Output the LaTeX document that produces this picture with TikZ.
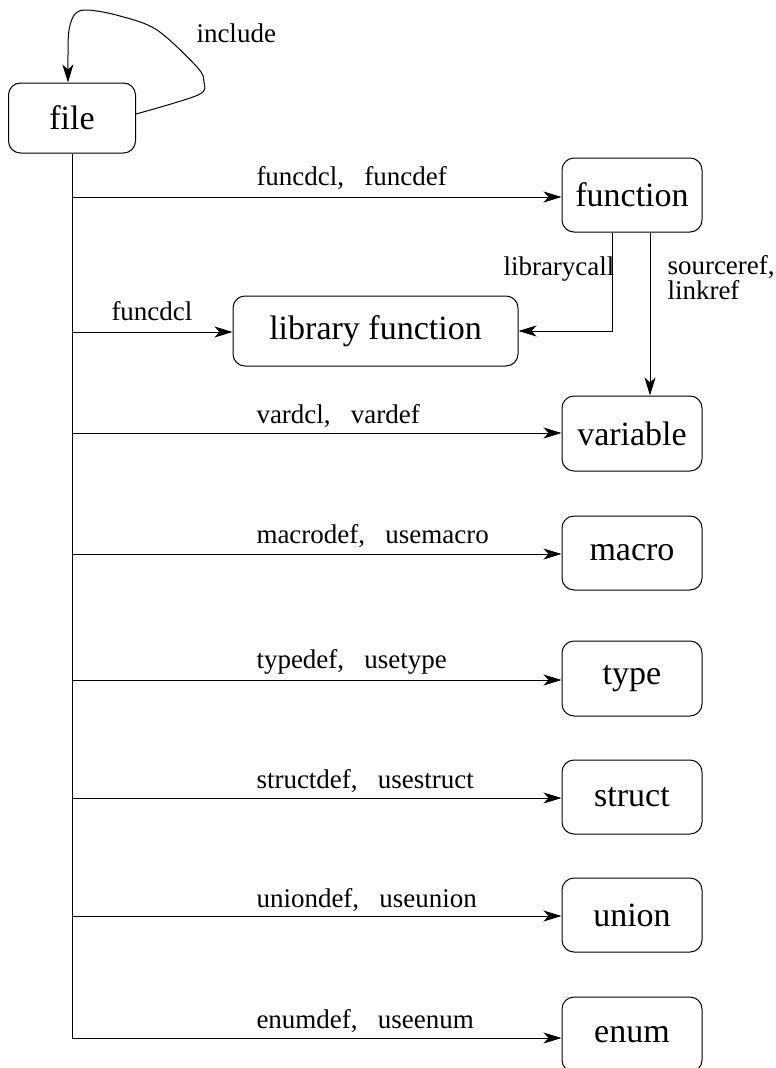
\documentclass[tikz,border=0pt]{standalone}
\usepackage{fontspec}
\setmainfont{Liberation Serif}
\usetikzlibrary{arrows.meta}
\newcommand{\bigtxt}{\fontsize{34}{38}\selectfont}
\newcommand{\smalltxt}{\fontsize{27}{29}\selectfont}
\tikzset{
  box/.style={draw, rounded corners=12pt, inner sep=0pt, font=\bigtxt,
              minimum width=140pt, minimum height=74pt},
  lbl/.style={inner sep=0pt, anchor=base west, font=\smalltxt},
  arr/.style={-{Stealth[length=18pt,width=11pt,inset=5pt]}},
}
\begin{document}
\begin{tikzpicture}[x=1pt,y=-1pt,line width=1pt]
\useasboundingbox (0,0) rectangle (776,1068);
\clip (0,0) rectangle (776,1068);

% nodes
\node[box, minimum width=127pt, minimum height=70pt] (file) at (72,118) {file};
\node[box] (function) at (632,195) {function};
\node[box, minimum width=285pt, minimum height=70pt] (library) at (375.5,331) {library function};
\node[box, minimum height=75pt] (variable) at (632,433.5) {variable};
\node[box] (macro) at (632,553) {macro};
\node[box, minimum height=75pt] (type) at (632,678.5) {type};
\node[box] (struct) at (632,797) {struct};
\node[box] (union) at (632,915) {union};
\node[box, minimum height=75pt] (enum) at (632,1034.5) {enum};

% trunk coordinates
\coordinate (t1) at (72,197);
\coordinate (t2) at (72,332);
\coordinate (t3) at (72,433);
\coordinate (t4) at (72,554);
\coordinate (t5) at (72,680);
\coordinate (t6) at (72,798);
\coordinate (t7) at (72,916);
\coordinate (t8) at (72,1038);

% trunk
\draw (file.south) -- (t8);

% horizontal arrows
\draw[arr] (t1) -- (t1 -| function.west);
\draw[arr] (t2) -- (t2 -| library.west);
\draw[arr] (t3) -- (t3 -| variable.west);
\draw[arr] (t4) -- (t4 -| macro.west);
\draw[arr] (t5) -- (t5 -| type.west);
\draw[arr] (t6) -- (t6 -| struct.west);
\draw[arr] (t7) -- (t7 -| union.west);
\draw[arr] (t8) -- (t8 -| enum.west);

% function -> library function, function -> variable
\draw[arr] ([xshift=-20pt]function.south) |- (library.east);
\draw[arr] ([xshift=18pt]function.south) -- ([xshift=18pt]variable.north);

% include self loop
\coordinate (incA) at ([yshift=4pt]file.east);
\coordinate (incB) at ([xshift=-4pt]file.north);
\draw[arr] plot[smooth, tension=0.55] coordinates {(incA) (198,95) (204,82) (197,67) (157,30) (120,16) (88,10) (75,14) (69,30) (68,55) (incB)};

% labels
\node[lbl] (linclude) at (196,42) {include};
\node[lbl] (lfunc) at (256,185) {funcdcl,\ \ \ funcdef};
\node[lbl] (llib) at (111,320) {funcdcl};
\node[lbl] (llibcall) at (503,275) {librarycall};
\node[lbl] (lsrc) at (667,274) {sourceref,};
\node[lbl] (llink) at (667,299) {linkref};
\node[lbl] (lvar) at (256,423) {vardcl,\ \ \ vardef};
\node[lbl] (lmacro) at (256,543) {macrodef,\ \ \ usemacro};
\node[lbl] (ltype) at (256,668) {typedef,\ \ \ usetype};
\node[lbl] (lstruct) at (256,788) {structdef,\ \ \ usestruct};
\node[lbl] (lunion) at (256,907) {uniondef,\ \ \ useunion};
\node[lbl] (lenum) at (256,1028) {enumdef,\ \ \ useenum};
\end{tikzpicture}
\end{document}
